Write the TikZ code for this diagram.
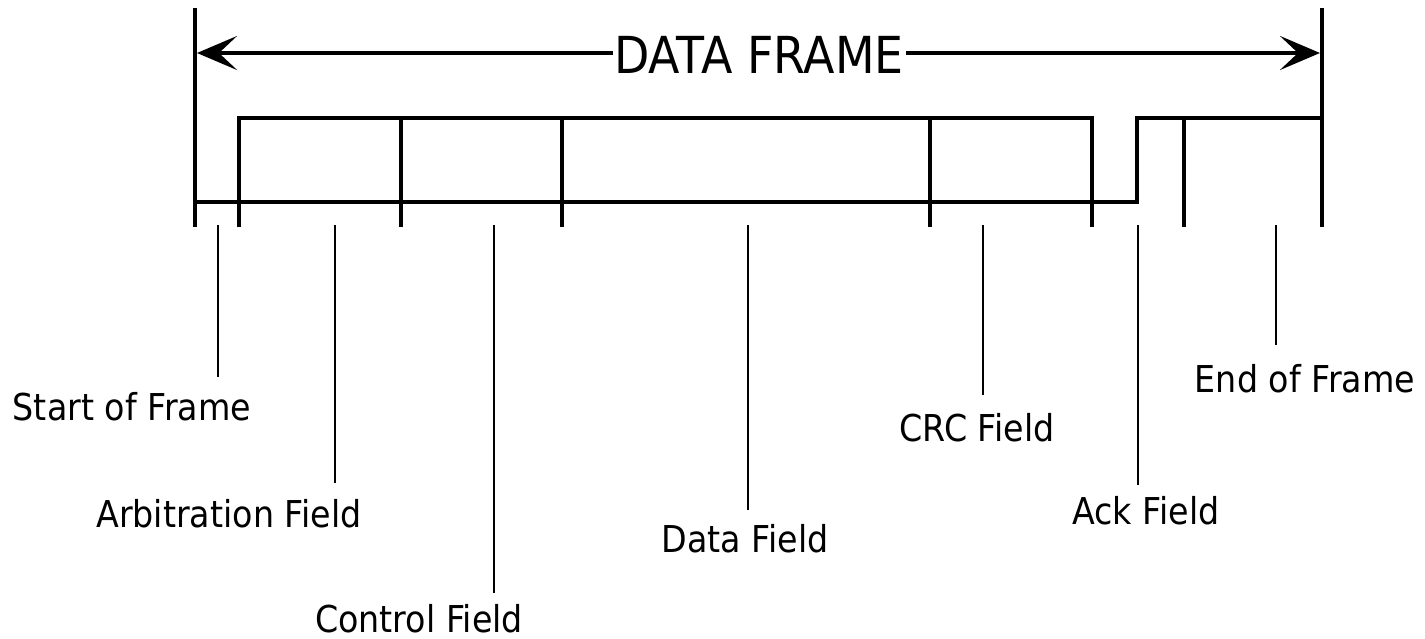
\documentclass[tikz,border=0pt]{standalone}
\usepackage{fontspec}
\setmainfont{DejaVu Sans}[FakeStretch=0.9]
\usetikzlibrary{arrows.meta}
\begin{document}
\begin{tikzpicture}[x=1pt,y=-1pt,
  heavy/.style={line width=4pt,line cap=butt,line join=miter},
  pointer/.style={line width=2.2pt},
  lbl/.style={inner sep=0pt,anchor=base,font=\fontsize{37}{44}\selectfont},
  titletxt/.style={inner sep=0pt,anchor=base,font=\fontsize{51}{60}\selectfont},
  tip/.style={-{Stealth[length=40pt,width=34pt,inset=18pt]}}]
\useasboundingbox (0,0) rectangle (1425,639);
% frame limits
\draw[heavy] (195,8) -- (195,227);
\draw[heavy] (1322,8) -- (1322,227);
% title and arrows
\node[titletxt] (title) at (759,74) {DATA FRAME};
\coordinate (al) at (197,53);
\coordinate (ar) at (1320,53);
\draw[heavy,tip] ([xshift=-1pt]al -| title.west) -- (al);
\draw[heavy,tip] ([xshift=2pt]ar -| title.east) -- (ar);
% waveform
\draw[heavy] (195,202) -- (1137,202) -- (1137,118) -- (1322,118);
\draw[heavy] (239,227) -- (239,118) -- (1092,118) -- (1092,227);
\foreach \x in {401,562,930,1184} \draw[heavy] (\x,118) -- (\x,227);
% labels
\node[lbl] (sof) at (132,420) {Start of Frame};
\node[lbl] (arb) at (229,527) {Arbitration Field};
\node[lbl] (ctl) at (419,632) {Control Field};
\node[lbl] (dat) at (745,552) {Data Field};
\node[lbl] (crc) at (977,441) {CRC Field};
\node[lbl] (ack) at (1146,524) {Ack Field};
\node[lbl] (eof) at (1305,392) {End of Frame};
% pointers
\coordinate (p1a) at (218,225); \coordinate (p1b) at (218,377);
\coordinate (p2a) at (335,225); \coordinate (p2b) at (335,483);
\coordinate (p3a) at (494,225); \coordinate (p3b) at (494,593);
\coordinate (p4a) at (748,225); \coordinate (p4b) at (748,510);
\coordinate (p5a) at (983,225); \coordinate (p5b) at (983,395);
\coordinate (p6a) at (1138,225); \coordinate (p6b) at (1138,485);
\coordinate (p7a) at (1276,225); \coordinate (p7b) at (1276,345);
\foreach \i in {1,...,7} \draw[pointer] (p\i a) -- (p\i b);
\end{tikzpicture}
\end{document}
